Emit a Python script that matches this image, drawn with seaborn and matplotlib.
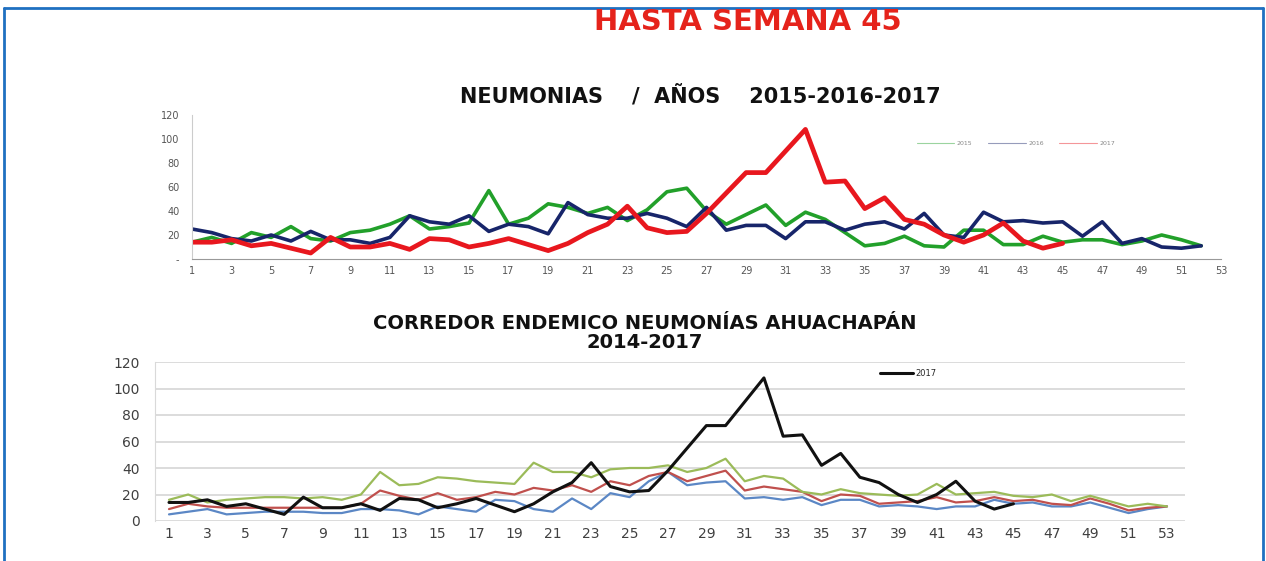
import matplotlib
matplotlib.use('Agg')
import matplotlib.pyplot as plt
from matplotlib.lines import Line2D
import seaborn as sns

sns.set_style('white')
plt.rcParams['font.family'] = ['DejaVu Sans']

# --- data ---
weeks = list(range(1, 54))

# top chart: weekly cases by year
s2015 = [14, 18, 13, 22, 18, 27, 17, 15, 22, 24, 29, 36, 25, 27, 30, 57, 29, 34, 46, 43,
         38, 43, 32, 41, 56, 59, 40, 29, 37, 45, 28, 39, 33, 22, 11, 13, 19, 11, 10, 24,
         24, 12, 12, 19, 14, 16, 16, 12, 15, 20, 16, 11]
s2016 = [25, 22, 17, 15, 20, 15, 23, 16, 16, 13, 18, 36, 31, 29, 36, 23, 29, 27, 21, 47,
         37, 34, 34, 38, 34, 27, 43, 24, 28, 28, 17, 31, 31, 24, 29, 31, 25, 38, 20, 18,
         39, 31, 32, 30, 31, 19, 31, 13, 17, 10, 9, 11]
s2017 = [14, 14, 16, 11, 13, 9, 5, 18, 10, 10, 13, 8, 17, 16, 10, 13, 17, 12, 7, 13,
         22, 29, 44, 26, 22, 23, 38, 55, 72, 72, 90, 108, 64, 65, 42, 51, 33, 29, 20, 14,
         20, 30, 15, 9, 13]

# bottom chart: endemic corridor 2014-2017
upper = [16, 20, 14, 16, 17, 18, 18, 17, 18, 16, 20, 37, 27, 28, 33, 32, 30, 29, 28, 44,
         37, 37, 33, 39, 40, 40, 42, 37, 40, 47, 30, 34, 32, 22, 20, 24, 21, 20, 19, 20,
         28, 20, 21, 22, 19, 18, 20, 15, 19, 15, 11, 13, 11]
median = [9, 13, 11, 10, 10, 10, 10, 10, 10, 10, 13, 23, 19, 16, 21, 16, 18, 22, 20, 25,
          23, 27, 22, 30, 27, 34, 37, 30, 34, 38, 23, 26, 24, 22, 15, 20, 19, 13, 14, 15,
          18, 14, 15, 18, 15, 16, 13, 12, 17, 13, 8, 10, 11]
lower = [5, 7, 9, 5, 6, 7, 7, 7, 6, 6, 9, 9, 8, 5, 11, 9, 7, 16, 15, 9,
         7, 17, 9, 21, 18, 30, 37, 27, 29, 30, 17, 18, 16, 18, 12, 16, 16, 11, 12, 11,
         9, 11, 11, 16, 13, 14, 11, 11, 14, 10, 6, 9, 11]

yticks = list(range(0, 121, 20))

W, H = 1266, 561
fig = plt.figure(figsize=(W / 100, H / 100), dpi=100)

# 1. page titles
fig.text(748 / W, 1 - 22 / H, 'HASTA SEMANA 45', color='#E5231B', fontsize=21,
         fontweight='bold', ha='center', va='center')
fig.text(700 / W, 1 - 96 / H, 'NEUMONIAS    /  AÑOS    2015-2016-2017', color='#111111',
         fontsize=15, fontweight='bold', ha='center', va='center')
fig.text(645 / W, 1 - 333 / H, 'CORREDOR ENDEMICO NEUMONÍAS AHUACHAPÁN\n2014-2017',
         color='#111111', fontsize=14, fontweight='bold', ha='center', va='center',
         linespacing=1.05)

# 2. top chart
ax1 = fig.add_axes([192 / W, 1 - 259 / H, (1221 - 192) / W, 144 / H])
sns.lineplot(x=weeks[:len(s2015)], y=s2015, ax=ax1, color='#22A02A', lw=2.6)
sns.lineplot(x=weeks[:len(s2016)], y=s2016, ax=ax1, color='#17256A', lw=2.6)
sns.lineplot(x=weeks[:len(s2017)], y=s2017, ax=ax1, color='#E8171E', lw=3.4)
ax1.set_xlim(1, 53)
ax1.set_ylim(0, 120)
ax1.set_yticks(yticks)
ax1.set_yticklabels(['-'] + [str(v) for v in yticks[1:]])
ax1.set_xticks(weeks)
ax1.set_xticklabels([str(w) if w % 2 else '' for w in weeks])
ax1.tick_params(axis='y', length=0, labelsize=7, labelcolor='#555555', pad=9)
ax1.tick_params(axis='x', length=3, width=0.8, color='#AAAAAA', labelsize=7,
                labelcolor='#555555', pad=2)
for side in ['top', 'right']:
    ax1.spines[side].set_visible(False)
ax1.spines['left'].set_color('#CCCCCC')
ax1.spines['bottom'].set_color('#999999')
handles = [Line2D([], [], color=c, lw=0.8, alpha=0.45) for c in ['#22A02A', '#17256A', '#E8171E']]
leg = ax1.legend(handles, ['2015', '2016', '2017'], ncol=3, fontsize=4.5, frameon=False,
                 handlelength=6, columnspacing=2.5, handletextpad=0.4, loc='center',
                 bbox_to_anchor=(1016 / W, 1 - 143 / H), bbox_transform=fig.transFigure)
for t in leg.get_texts():
    t.set_color('#888888')

# 3. bottom chart
ax2 = fig.add_axes([155 / W, 1 - 521 / H, 1030 / W, 159 / H])
sns.lineplot(x=weeks, y=lower, ax=ax2, color='#5B87C5', lw=1.6)
sns.lineplot(x=weeks, y=median, ax=ax2, color='#C0504D', lw=1.6)
sns.lineplot(x=weeks, y=upper, ax=ax2, color='#9BBB59', lw=1.6)
sns.lineplot(x=weeks[:len(s2017)], y=s2017, ax=ax2, color='#111111', lw=2.2, label='2017')
ax2.set_xlim(0.27, 53.94)
ax2.set_ylim(0, 120)
ax2.set_yticks(yticks)
ax2.set_xticks(weeks[::2])
ax2.grid(axis='y', color='#D9D9D9', lw=1.3)
ax2.set_axisbelow(True)
ax2.tick_params(axis='y', length=0, labelsize=10, labelcolor='#404040', pad=11)
ax2.tick_params(axis='x', length=0, labelsize=10, labelcolor='#404040', pad=4)
for side in ['top', 'right', 'bottom']:
    ax2.spines[side].set_visible(False)
ax2.spines['left'].set_color('#D9D9D9')
ax2.legend(fontsize=6, frameon=False, handlelength=4, handletextpad=0.3, loc='center',
           bbox_to_anchor=(908 / W, 1 - 373 / H), bbox_transform=fig.transFigure)

# 4. blue frame
frame = dict(transform=fig.transFigure, color='#1F70C1', lw=2)
fig.add_artist(Line2D([4 / W, 4 / W], [0, 1 - 8 / H], **frame))
fig.add_artist(Line2D([4 / W, 1263 / W], [1 - 8 / H, 1 - 8 / H], **frame))
fig.add_artist(Line2D([1263 / W, 1263 / W], [0, 1 - 8 / H], **frame))

fig.savefig('out.png', dpi=100)
